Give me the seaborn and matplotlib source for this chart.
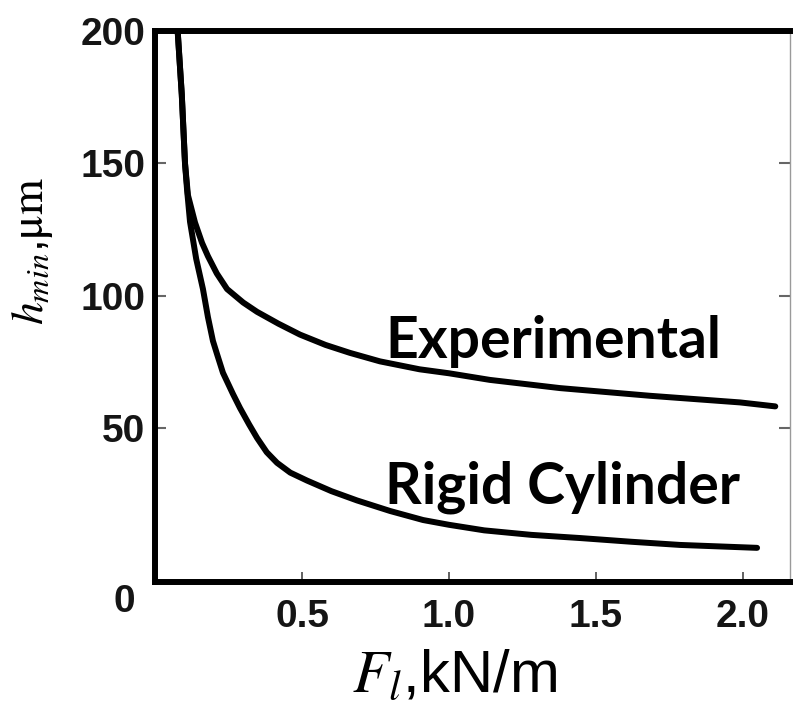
import matplotlib
matplotlib.use("Agg")
import matplotlib.pyplot as plt
import matplotlib.transforms as mtransforms
import seaborn as sns
import pandas as pd

# Data (F_l in kN/m, h_min in um)
exp_x = [0.077, 0.091, 0.102, 0.112, 0.136, 0.16, 0.18, 0.21, 0.245, 0.30, 0.347, 0.42, 0.493, 0.58, 0.663, 0.765,
         0.90, 1.0, 1.139, 1.378, 1.684, 1.99, 2.11]
exp_y = [200, 176, 150, 138, 127.7, 120, 115, 108.5, 102.6, 97.5, 94, 89.5, 85.4, 81.5, 78.5, 75.3,
         72.3, 70.8, 68.3, 65.2, 62.3, 59.8, 58.3]

rig_x = [0.077, 0.091, 0.102, 0.109, 0.119, 0.14, 0.163, 0.18, 0.197, 0.211, 0.231, 0.265, 0.289, 0.32, 0.347,
         0.38, 0.415, 0.46, 0.517, 0.60, 0.687, 0.80, 0.912, 1.0, 1.12, 1.28, 1.446, 1.62, 1.786, 2.048]
rig_y = [200, 176, 150, 140, 128, 114, 102.6, 92, 83, 78, 71, 63, 57.7, 51.5, 46.4,
         41, 37, 33.3, 30.3, 26.3, 22.8, 18.8, 15.4, 13.6, 11.5, 9.8, 8.6, 7.2, 6.0, 4.9]

x_ticks = [0.5, 1.0, 1.5, 2.0]
x_tick_labels = ["0.5", "1.0", "1.5", "2.0"]
y_ticks = [0, 50, 100, 150, 200]
y_tick_labels = ["0", "50", "100", "150", "200"]

series_labels = ["Experimental", "Rigid Cylinder"]

df = pd.concat([
    pd.DataFrame({"F": exp_x, "h": exp_y, "series": series_labels[0]}),
    pd.DataFrame({"F": rig_x, "h": rig_y, "series": series_labels[1]}),
], ignore_index=True)

sns.set_theme(style="white")
plt.rcParams["font.family"] = ["Liberation Sans", "DejaVu Sans"]
plt.rcParams["mathtext.fontset"] = "stix"

fig = plt.figure(figsize=(7.93, 7.13), dpi=100)
ax = fig.add_axes([0.1955, 0.1837, 0.8007, 0.7728])

sns.lineplot(data=df, x="F", y="h", units="series", estimator=None, sort=False,
             color="black", linewidth=4.3, ax=ax, legend=False,
             solid_capstyle="round", solid_joinstyle="round")

ax.set_xlim(0, 2.16)
ax.set_ylim(-8, 200)

ax.set_xticks(x_ticks)
ax.set_xticklabels(x_tick_labels)
ax.set_yticks(y_ticks)
ax.set_yticklabels(y_tick_labels)

for lab in ax.get_xticklabels() + ax.get_yticklabels():
    lab.set_fontsize(28)
    lab.set_fontweight("bold")
    lab.set_color("#151515")

ax.tick_params(axis="x", direction="in", length=7, width=1.3, color="#555555",
               pad=12, bottom=True, top=False)
ax.tick_params(axis="y", direction="in", length=8, width=1.5, color="#666666",
               pad=7, left=True, right=True)

# no tick marks at 0 and 200 on the y axis
yt = ax.yaxis.get_major_ticks()
for i in (0, 4):
    yt[i].tick1line.set_visible(False)
    yt[i].tick2line.set_visible(False)

# shift the "0" label down, as in the reference
offset = mtransforms.ScaledTranslation(-0.1, -0.37, fig.dpi_scale_trans)
ylabs = ax.get_yticklabels()
ylabs[0].set_transform(ylabs[0].get_transform() + offset)

for side in ["left", "top", "bottom"]:
    ax.spines[side].set_linewidth(4.3)
    ax.spines[side].set_color("black")
ax.spines["right"].set_linewidth(1.0)
ax.spines["right"].set_color("#9a9a9a")

ax.set_xlabel(r"$F_l$,kN/m", fontsize=43, color="black")
ax.xaxis.set_label_coords(0.472, -0.122)
ax.set_ylabel(r"$h_{min}$,$\mathrm{\mu m}$", fontsize=33, color="black")
ax.yaxis.set_label_coords(-0.158, 0.6)

ax.text(0.782, 76.4, series_labels[0], fontsize=41, fontweight="bold",
        family=["Lato", "DejaVu Sans"], ha="left", va="baseline", color="black")
ax.text(0.782, 21.7, series_labels[1], fontsize=41, fontweight="bold",
        family=["Lato", "DejaVu Sans"], ha="left", va="baseline", color="black")

fig.savefig("out.png", dpi=100)
